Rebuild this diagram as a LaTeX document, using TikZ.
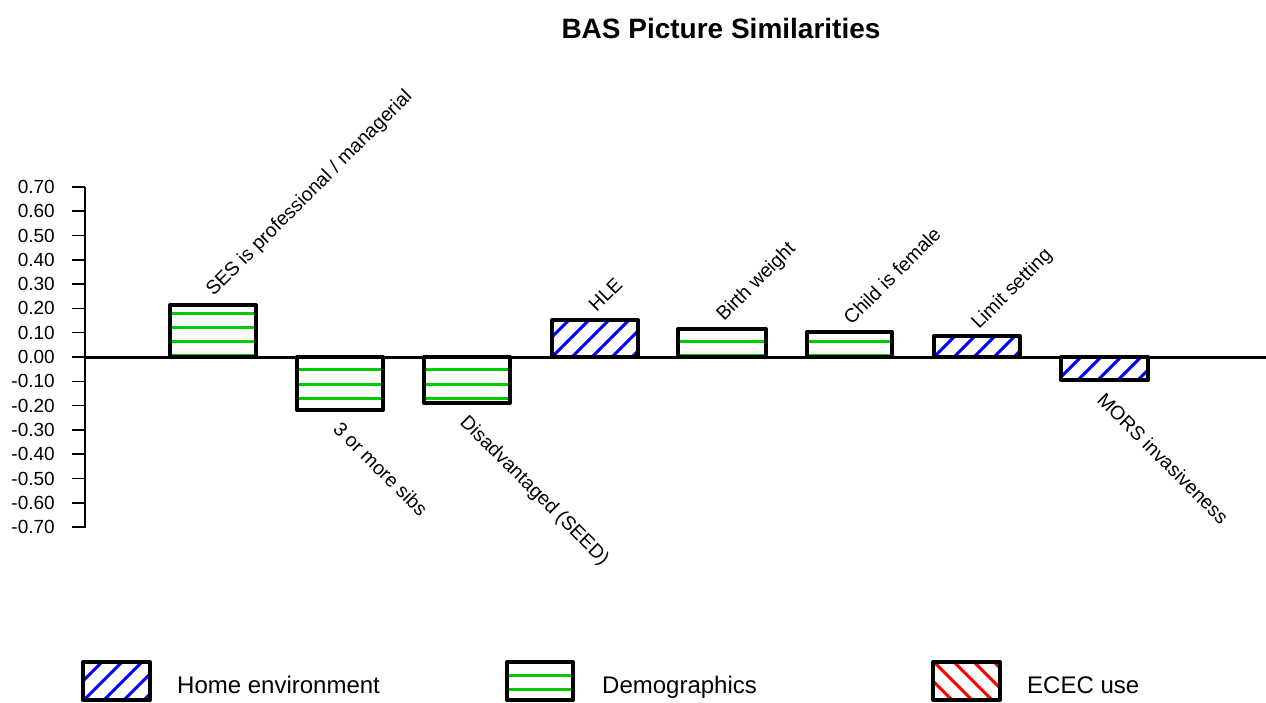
\documentclass[tikz,border=0pt]{standalone}
\usepackage{fontspec}
\setmainfont{Liberation Sans}
\definecolor{demgreen}{RGB}{0,205,0}
\definecolor{homeblue}{RGB}{0,0,255}
\definecolor{ececred}{RGB}{255,0,0}
\begin{document}
\begin{tikzpicture}[x=1pt,y=-1pt,
  barframe/.style={draw=black,line width=4pt,line join=round},
  greenhatch/.style={demgreen,line width=3pt},
  bluehatch/.style={homeblue,line width=3pt},
  redhatch/.style={ececred,line width=3pt},
  ticklbl/.style={anchor=east,inner sep=0pt,font=\fontsize{19}{22}\selectfont},
  lblup/.style={anchor=base west,inner sep=0pt,rotate=45,font=\fontsize{19.5}{22}\selectfont},
  lbldown/.style={anchor=base west,inner sep=0pt,rotate=-45,font=\fontsize{19.5}{22}\selectfont},
  legtext/.style={anchor=base west,inner sep=0pt,font=\fontsize{24}{28}\selectfont}]
\useasboundingbox (0,0) rectangle (1266,702);

% title
\node[font=\bfseries\fontsize{28}{32}\selectfont] (title) at (721,28) {BAS Picture Similarities};

% value axis
\coordinate (axtop) at (85,187);
\coordinate (axbot) at (85,528);
\draw[line width=1.5pt] (axtop) -- (axbot);
\foreach \v/\t [count=\i] in {7/0.70,6/0.60,5/0.50,4/0.40,3/0.30,2/0.20,1/0.10,0/0.00,
  -1/-0.10,-2/-0.20,-3/-0.30,-4/-0.40,-5/-0.50,-6/-0.60,-7/-0.70}{
  \pgfmathsetmacro{\yy}{357-24.3*\v}
  \coordinate (tk\i) at (72,\yy);
  \coordinate (ta\i) at (85,\yy);
  \draw[line width=1.5pt] (tk\i) -- (ta\i);
  \node[ticklbl] (tl\i) at (55,\yy) {\t};
}

% bars: left, right, top, bottom, hatch
\foreach \l/\r/\t/\b/\h in {
  170/256/305/357/g, 297/383/357/410/g, 424/510/357/403/g, 552/638/320/357/b,
  678/766/329/357/g, 807/892/332/357/g, 934/1020/336/357/b, 1061/1148/357/380/b}{
  \begin{scope}
    \clip (\l,\t) rectangle (\r,\b);
    \if\h g
      \foreach \k in {-2,...,7}{
        \pgfmathsetmacro{\hy}{313+14.2*\k}
        \draw[greenhatch] (\l,\hy) -- (\r,\hy);
      }
    \else
      \foreach \k in {-3,...,10}{
        \pgfmathsetmacro{\hx}{\l-20+20*\k}
        \draw[bluehatch] (\hx-70,427) -- (\hx+70,287);
      }
    \fi
  \end{scope}
  \draw[barframe] (\l,\t) rectangle (\r,\b);
}

% zero line
\coordinate (z0) at (85,357);
\coordinate (z1) at (1266,357);
\draw[line width=3pt] (z0) -- (z1);

% bar labels
\node[lblup] (lses) at (213.5,297) {SES is professional / managerial};
\node[lbldown] (lsib) at (332,430) {3 or more sibs};
\node[lbldown] (ldis) at (459,423) {Disadvantaged (SEED)};
\node[lblup] (lhle) at (596.5,313) {HLE};
\node[lblup] (lbw) at (724,322) {Birth weight};
\node[lblup] (lfem) at (851.5,326) {Child is female};
\node[lblup] (llim) at (979,330) {Limit setting};
\node[lbldown] (lmors) at (1096,401) {MORS invasiveness};

% legend
\begin{scope}
  \clip (83,662) rectangle (150,700);
  \foreach \k in {0,...,7}{
    \pgfmathsetmacro{\hx}{63+20*\k}
    \draw[bluehatch] (\hx-30,711) -- (\hx+30,651);
  }
\end{scope}
\draw[barframe] (83,662) rectangle (150,700);
\node[legtext] (lghome) at (177,693) {Home environment};

\begin{scope}
  \clip (507,662) rectangle (573,700);
  \draw[greenhatch] (507,675) -- (573,675);
  \draw[greenhatch] (507,689) -- (573,689);
\end{scope}
\draw[barframe] (507,662) rectangle (573,700);
\node[legtext] (lgdem) at (602,693) {Demographics};

\begin{scope}
  \clip (933,662) rectangle (1000,700);
  \foreach \k in {0,...,7}{
    \pgfmathsetmacro{\hx}{913+20*\k}
    \draw[redhatch] (\hx-30,651) -- (\hx+30,711);
  }
\end{scope}
\draw[barframe] (933,662) rectangle (1000,700);
\node[legtext] (lgecec) at (1027,693) {ECEC use};
\end{tikzpicture}
\end{document}
